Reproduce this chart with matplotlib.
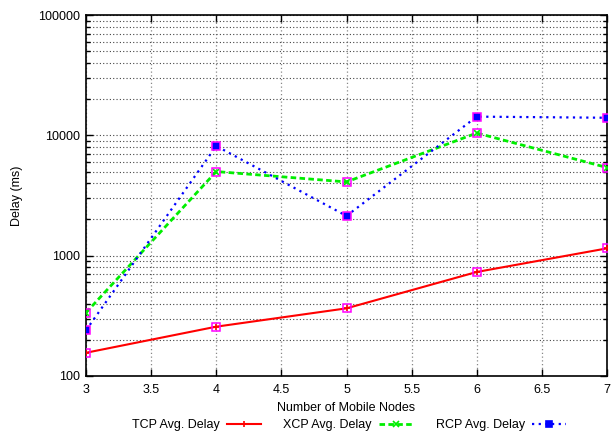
import matplotlib
matplotlib.use("Agg")
import matplotlib.pyplot as plt
from matplotlib.ticker import FixedLocator, LogLocator, NullFormatter

plt.rcParams['font.family'] = ['Liberation Sans', 'DejaVu Sans']

nodes = [3, 4, 5, 6, 7]
tcp_delay = [156, 257, 365, 732, 1150]
xcp_delay = [336, 5000, 4100, 10450, 5400]
rcp_delay = [240, 8150, 2140, 14300, 14000]

x_ticks = [3, 3.5, 4, 4.5, 5, 5.5, 6, 6.5, 7]
x_tick_labels = ["3", "3.5", "4", "4.5", "5", "5.5", "6", "6.5", "7"]
y_ticks = [100, 1000, 10000, 100000]
y_tick_labels = ["100", "1000", "10000", "100000"]

fig = plt.figure(figsize=(6.11, 4.37), dpi=100)
ax = fig.add_axes([86/611, 61/437, 521/611, 361/437])

series = [
    ("TCP Avg. Delay", tcp_delay, "#ff0000", "-", "+", 1.5),
    ("XCP Avg. Delay", xcp_delay, "#00ee00", (0, (2, 1.2)), "x", 2.0),
    ("RCP Avg. Delay", rcp_delay, "#0000ff", (0, (1, 2)), "s", 1.6),
]

handles = []
for label, vals, color, ls, mk, lw in series:
    h, = ax.plot(nodes, vals, color=color, lw=lw, linestyle=ls, marker=mk,
                 markersize=4, markeredgewidth=1.2, label=label, zorder=3)
    handles.append(h)
    ax.plot(nodes, vals, linestyle='none', marker='s', markersize=5.5,
            markerfacecolor='none', markeredgecolor='#ff00ff',
            markeredgewidth=1.1, zorder=4)

ax.set_yscale('log')
ax.set_xlim(3, 7)
ax.set_ylim(100, 100000)
ax.xaxis.set_major_locator(FixedLocator(x_ticks))
ax.set_xticklabels(x_tick_labels)
ax.yaxis.set_major_locator(FixedLocator(y_ticks))
ax.set_yticklabels(y_tick_labels)
ax.yaxis.set_minor_locator(LogLocator(base=10, subs=range(2, 10)))
ax.yaxis.set_minor_formatter(NullFormatter())

ax.tick_params(which='both', direction='in', top=True, right=True, labelsize=9)
ax.tick_params(which='major', length=5, width=1)
ax.tick_params(which='minor', length=3, width=1)
ax.tick_params(axis='x', pad=6)
ax.tick_params(axis='y', pad=4)

ax.grid(True, which='major', axis='x', color='#888888', linestyle=(0, (1, 2)), lw=0.9)
ax.grid(True, which='both', axis='y', color='#444444', linestyle=(0, (1, 2)), lw=0.8)
ax.set_axisbelow(True)
for sp in ax.spines.values():
    sp.set_linewidth(1.2)

ax.set_xlabel("Number of Mobile Nodes", fontsize=9, labelpad=4)
ax.set_ylabel("Delay (ms)", fontsize=9, labelpad=11)

fig.legend(handles=handles, loc='center', bbox_to_anchor=(0.571, 12/437),
           ncol=3, frameon=False, markerfirst=False, fontsize=9,
           handlelength=2.7, columnspacing=1.8, handletextpad=0.6)

fig.savefig("out.png", dpi=100)
